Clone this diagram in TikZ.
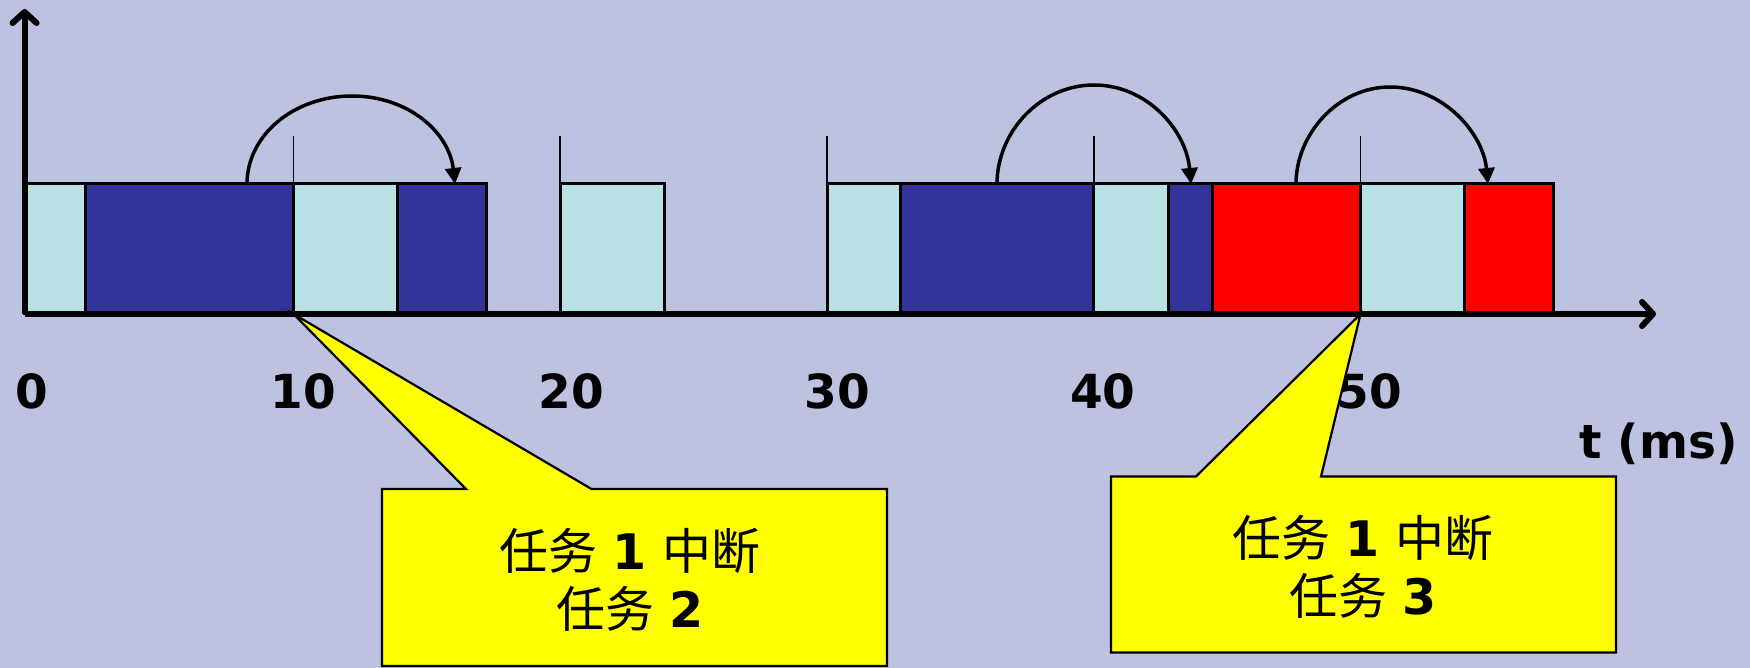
\documentclass[tikz,border=0pt]{standalone}
\usepackage{fontspec}
\setmainfont{DejaVu Sans}
\newfontfamily\cjk{Noto Sans CJK SC}
\usetikzlibrary{arrows.meta}
\definecolor{bg}{RGB}{190,194,225}
\definecolor{lcyan}{RGB}{185,224,227}
\definecolor{dblue}{RGB}{51,51,153}
\definecolor{cred}{RGB}{255,0,0}
\definecolor{cyel}{RGB}{255,255,0}
\begin{document}
\begin{tikzpicture}[x=1pt,y=-1pt,
  seg/.style={draw=black, line width=3pt},
  tA/.style={seg, fill=dblue},
  tB/.style={seg, fill=lcyan},
  tC/.style={seg, fill=cred},
  tickline/.style={line width=1.8pt},
  axisline/.style={line width=6pt, -{Straight Barb[round, length=11pt, width=24pt]}},
  hop/.style={line width=3.5pt, -{Triangle[length=16pt, width=16pt]}},
  num/.style={font=\fontsize{47}{56}\selectfont\bfseries, anchor=base, inner sep=0pt},
  callout/.style={draw=black, line width=2.2pt, fill=cyel, line join=miter},
  ctext/.style={font=\fontsize{49}{58}\selectfont, align=center, inner sep=0pt}]
\fill[bg] (0,0) rectangle (1750,668);
\useasboundingbox (0,0) rectangle (1750,668);
% execution segments
\path[tB] (24.6,184) rectangle (85.9,313);
\path[tA] (85.9,184) rectangle (293.5,313);
\path[tB] (293.5,184) rectangle (397.3,313);
\path[tA] (397.3,184) rectangle (486.6,313);
\path[tB] (560.3,184) rectangle (664.1,313);
\path[tB] (827,184) rectangle (900.7,313);
\path[tA] (900.7,184) rectangle (1093.8,313);
\path[tB] (1093.8,184) rectangle (1168.5,313);
\path[tA] (1168.5,184) rectangle (1212.1,313);
\path[tC] (1212.1,184) rectangle (1360.5,313);
\path[tB] (1360.5,184) rectangle (1464.3,313);
\path[tC] (1464.3,184) rectangle (1553.6,313);
% period ticks
\foreach \x in {293.5,560.3,827,1093.8,1360.5}
  \draw[tickline] (\x,136) -- (\x,184);
% axes
\coordinate (O) at (24.6,314);
\coordinate (ytip) at (24.6,9);
\coordinate (xtip) at (1656,314);
\draw[axisline] (O) -- (ytip);
\draw[axisline] (O) -- (xtip);
% preemption arcs
\coordinate (a1s) at (247,184);
\coordinate (a1e) at (455,184);
\coordinate (a2s) at (997,184);
\coordinate (a2e) at (1191,184);
\coordinate (a3s) at (1296,184);
\coordinate (a3e) at (1488,184);
\draw[hop] (a1s) .. controls (247,135) and (294,96) .. (352,96) .. controls (408,96) and (449,132) .. (a1e);
\draw[hop] (a2s) .. controls (997,132) and (1040,85) .. (1094,85) .. controls (1147,85) and (1186,130) .. (a2e);
\draw[hop] (a3s) .. controls (1296,134) and (1338,87) .. (1390,87) .. controls (1443,87) and (1483,133) .. (a3e);
% axis labels
\node[num] (l0) at (31.8,408) {0};
\node[num] (l10) at (303.6,408) {10};
\node[num] (l20) at (571,408) {20};
\node[num] (l30) at (837,408) {30};
\node[num] (l40) at (1102.7,408) {40};
\node[num] (l50) at (1369.5,408) {50};
\node[num, anchor=base east] (tl) at (1738,458) {t (ms)};
% callouts
\coordinate (c1tip) at (293.5,314);
\draw[callout] (382,489) -- (466,489) -- (c1tip) -- (591.5,489) -- (887,489) -- (887,666) -- (382,666) -- cycle;
\node[ctext] (c1) at (630,580) {{\cjk 任务} \textbf{1} {\cjk 中断}\\{\cjk 任务} \textbf{2}};
\coordinate (c2tip) at (1360.5,314);
\draw[callout] (1111,476.5) -- (1196,476.5) -- (c2tip) -- (1321,476.5) -- (1616,476.5) -- (1616,652.5) -- (1111,652.5) -- cycle;
\node[ctext] (c2) at (1363,567) {{\cjk 任务} \textbf{1} {\cjk 中断}\\{\cjk 任务} \textbf{3}};
\end{tikzpicture}
\end{document}
